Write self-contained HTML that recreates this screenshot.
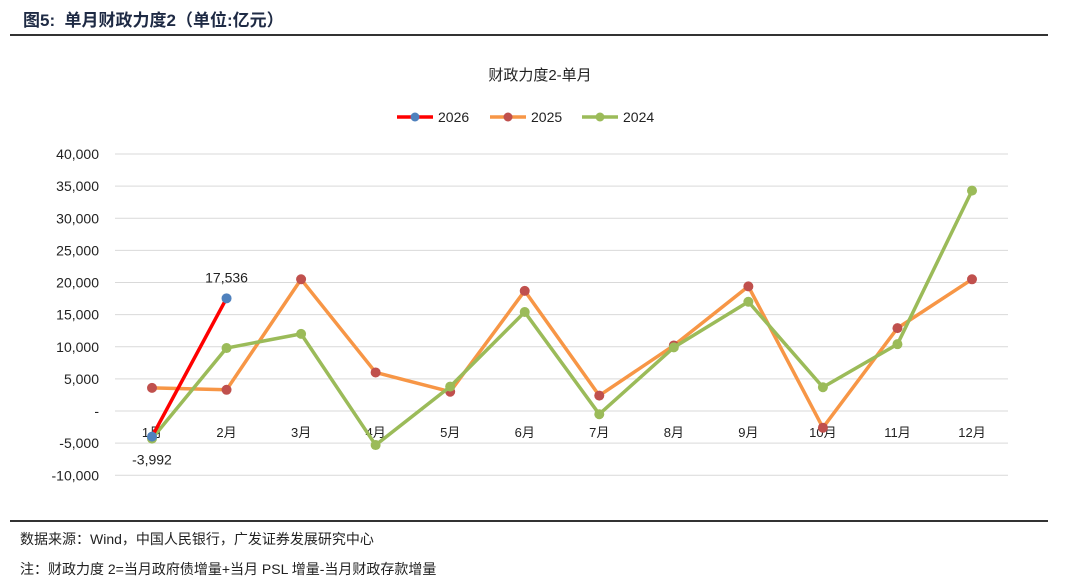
<!DOCTYPE html>
<html><head><meta charset="utf-8">
<style>
body{margin:0;width:1080px;height:582px;background:#fff;overflow:hidden;font-family:"Liberation Sans","Noto Sans CJK SC",sans-serif;}
#title{position:absolute;left:23px;top:6px;font-size:17px;font-weight:bold;color:#1e2a44;}
.rule{position:absolute;left:10px;width:1038px;height:2px;background:#333;}
.note{position:absolute;left:20px;font-size:14px;color:#222;}
svg{position:absolute;left:0;top:0;}
</style></head><body>
<div id="title">图5:&nbsp; 单月财政力度2（单位:亿元）</div>
<div class="rule" style="top:34px"></div>
<div class="rule" style="top:520px"></div>
<div class="note" style="top:529px">数据来源：Wind，中国人民银行，广发证券发展研究中心</div>
<div class="note" style="top:559px">注：财政力度 2=当月政府债增量+当月 PSL 增量-当月财政存款增量</div>
<svg id="chart" width="1080" height="582"></svg>
<script>
const categories=["1月","2月","3月","4月","5月","6月","7月","8月","9月","10月","11月","12月"];
const yTicks=[-10000,-5000,0,5000,10000,15000,20000,25000,30000,35000,40000];
const s2026=[-3992,17536];
const s2025=[3600,3300,20500,6000,3000,18700,2400,10200,19400,-2600,12900,20500];
const s2024=[-4300,9800,12000,-5300,3800,15400,-500,9900,17000,3700,10400,34300];
const NS="http://www.w3.org/2000/svg";
const svg=document.getElementById('chart');
function x(i){return 152+i*(820/11);}
function y(v){return 411-v*(257/40000);}
function el(t,a,txt){const e=document.createElementNS(NS,t);for(const k in a)e.setAttribute(k,a[k]);if(txt!==undefined)e.textContent=txt;svg.appendChild(e);return e;}
const ct=el('text',{x:540,y:80,'text-anchor':'middle','font-size':15,fill:'#222'},'财政力度2-单月');


yTicks.forEach(v=>{
  const g=el('line',{x1:115,x2:1008,y1:y(v),y2:y(v),stroke:'#d9d9d9','stroke-width':1});
  
  
  const t=el('text',{x:99,y:y(v)+5,'text-anchor':'end','font-size':14,fill:'#222'},v===0?'-':v.toLocaleString('en-US'));
  
  
});
categories.forEach((c,i)=>{
  const t=el('text',{x:x(i),y:y(0)+26,'text-anchor':'middle','font-size':13,fill:'#222'},c);
  
  
});
function series(data,lc,mc,name){
  const pts=data.map((v,i)=>x(i)+','+y(v)).join(' ');
  const p=el('polyline',{points:pts,fill:'none',stroke:lc,'stroke-width':3.5,'stroke-linejoin':'round'});
  
  
  data.forEach((v,i)=>{
    const c=el('circle',{cx:x(i),cy:y(v),r:5,fill:mc});
    
    
  });
}
series(s2025,'#f79646','#c0504d','series-2025');
series(s2024,'#9bbb59','#9bbb59','series-2024');
series(s2026,'#ff0000','#4f81bd','series-2026');
const l1=el('text',{x:x(1),y:y(s2026[1])-16,'text-anchor':'middle','font-size':14,fill:'#222'},s2026[1].toLocaleString('en-US'));


const l2=el('text',{x:x(0),y:y(s2026[0])+28,'text-anchor':'middle','font-size':14,fill:'#222'},s2026[0].toLocaleString('en-US'));


const legend=[['2026','#ff0000','#4f81bd',397],['2025','#f79646','#c0504d',490],['2024','#9bbb59','#9bbb59',582]];
legend.forEach(l=>{
  const a=el('line',{x1:l[3],x2:l[3]+36,y1:117,y2:117,stroke:l[1],'stroke-width':3.5});
  
  
  const b=el('circle',{cx:l[3]+18,cy:117,r:4.5,fill:l[2]});
  
  
  const t=el('text',{x:l[3]+41,y:122,'font-size':14,fill:'#222'},l[0]);
  
  
});
</script>
</body></html>
